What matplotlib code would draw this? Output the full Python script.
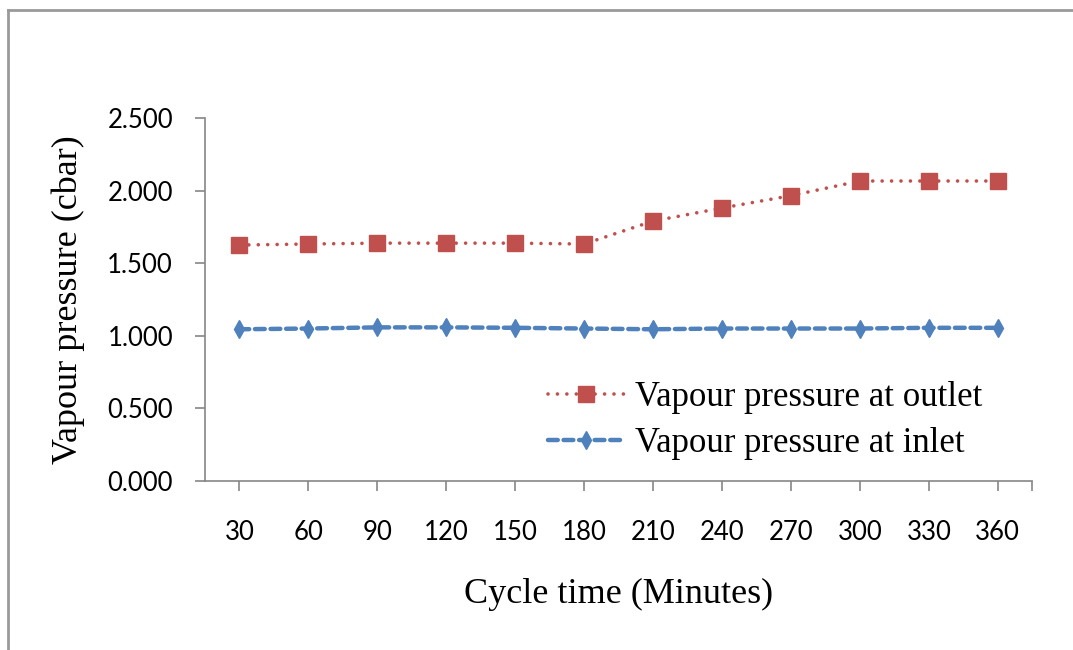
import matplotlib
matplotlib.use('Agg')
import matplotlib.pyplot as plt
from matplotlib.lines import Line2D

# data
cycle_time = ['30', '60', '90', '120', '150', '180', '210', '240', '270', '300', '330', '360']
outlet = [1.625, 1.632, 1.638, 1.638, 1.638, 1.632, 1.790, 1.880, 1.965, 2.066, 2.066, 2.066]
inlet = [1.045, 1.050, 1.058, 1.058, 1.055, 1.050, 1.045, 1.050, 1.050, 1.050, 1.055, 1.055]
yticks = [0.0, 0.5, 1.0, 1.5, 2.0, 2.5]

red = '#C0504D'
blue = '#4F81BD'
serif = 'Liberation Serif'
sans = 'Lato'

fig = plt.figure(figsize=(10.73, 6.5), dpi=100)
ax = fig.add_axes([0.191, 0.26, 0.771, 0.5585])

x = list(range(len(cycle_time)))
ax.plot(x, outlet, color=red, lw=2.6, marker='s', markersize=12,
        linestyle=(0, (0.01, 2.6)), dash_capstyle='round',
        label='Vapour pressure at outlet')
ax.plot(x, inlet, color=blue, lw=3.2, marker='d', markersize=9,
        linestyle=(0, (2.2, 1.3)), dash_capstyle='round',
        label='Vapour pressure at inlet')

ax.set_xlim(-0.5, len(x) - 0.5)
ax.set_ylim(0, 2.5)
ax.set_xticks(x + [len(x) - 0.5])
ax.set_xticklabels(cycle_time + [''])
ax.set_yticks(yticks)
ax.set_yticklabels(['%.3f' % v for v in yticks])

for s in ['top', 'right']:
    ax.spines[s].set_visible(False)
for s in ['left', 'bottom']:
    ax.spines[s].set_color('#868686')
    ax.spines[s].set_linewidth(1.2)
ax.tick_params(axis='both', colors='#868686', length=7, width=1.2,
               labelcolor='black', labelsize=18.5)
ax.tick_params(axis='x', pad=21)
ax.tick_params(axis='y', pad=16)
for lab in ax.get_xticklabels() + ax.get_yticklabels():
    lab.set_fontfamily(sans)

ax.set_xlabel('Cycle time (Minutes)', fontfamily=serif, fontsize=26, labelpad=24)
ax.set_ylabel('Vapour pressure (cbar)', fontfamily=serif, fontsize=26, labelpad=16)

ax.legend(loc='upper left', bbox_to_anchor=(0.415, 0.275), frameon=False,
          prop={'family': serif, 'size': 25}, handlelength=2.2,
          handletextpad=0.3, labelspacing=0.38, borderpad=0, borderaxespad=0)

# outer frame lines (top and left)
fig.add_artist(Line2D([0.0075, 1.0], [0.985, 0.985], color='#9a9a9a', lw=2))
fig.add_artist(Line2D([0.0075, 0.0075], [0.0, 0.985], color='#9a9a9a', lw=2))

fig.savefig('out.png', dpi=100)
